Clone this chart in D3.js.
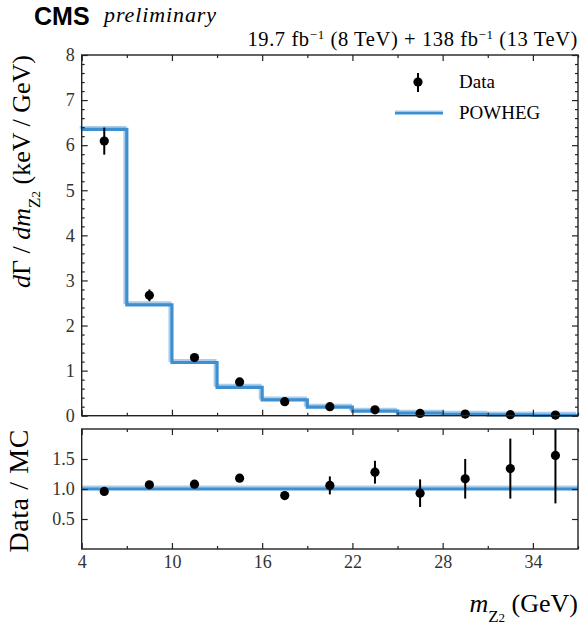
<!DOCTYPE html>
<html>
<head>
<meta charset="utf-8">
<script src="https://cdn.jsdelivr.net/npm/d3@7"></script>
<style>
  body { margin: 0; background: #fff; }
  text { font-family: "Liberation Serif", "DejaVu Serif", serif; }
</style>
</head>
<body>
<div id="chart-area"></div>
<script>
// bin edges of m_Z2 (GeV)
var binEdges = [4, 7, 10, 13, 16, 19, 22, 25, 28, 31, 34, 37];
// POWHEG prediction, keV/GeV
var powheg = [6.35, 2.46, 1.18, 0.63, 0.35, 0.19, 0.10, 0.055, 0.03, 0.017, 0.009];
// measured data and its error
var dataVals = [6.09, 2.67, 1.29, 0.75, 0.31, 0.20, 0.13, 0.05, 0.035, 0.023, 0.014];
var dataErr = [0.30, 0.13, 0.06, 0.05, 0.03, 0.03, 0.02, 0.012, 0.01, 0.009, 0.007];
// ratio data / MC
var ratioVals = [0.96, 1.07, 1.08, 1.18, 0.89, 1.06, 1.28, 0.93, 1.17, 1.34, 1.56];
var ratioErr = [0.05, 0.05, 0.05, 0.06, 0.07, 0.15, 0.19, 0.23, 0.33, 0.50, 0.80];

var xTicks = [4, 10, 16, 22, 28, 34];
var xMinor = [7, 13, 19, 25, 31, 37];
var yTicks = [0, 1, 2, 3, 4, 5, 6, 7, 8];
var ratioTicks = [0.5, 1.0, 1.5];

var W = 580, H = 624;
var left = 81.7, right = 578;
var top1 = 55, bot1 = 415.7;
var top2 = 429, bot2 = 549;

var blue = "#3d8fd0", lightBlue = "#a9cdec";

var svg = d3.select("#chart-area")
    .append("svg")
      .attr("width", W)
      .attr("height", H);

var x = d3.scaleLinear().domain([4, 37]).range([left, right]);
var y = d3.scaleLinear().domain([0, 8]).range([bot1, top1]);
var yr = d3.scaleLinear().domain([0, 2]).range([bot2, top2]);

var bins = powheg.map(function(d, i) {
  return {lo: binEdges[i], hi: binEdges[i + 1], mc: d,
          data: dataVals[i], err: dataErr[i],
          ratio: ratioVals[i], rerr: ratioErr[i]};
});

// step path for the histogram
function stepPath(yScale, acc) {
  var pts = [];
  bins.forEach(function(b) {
    pts.push([x(b.lo), yScale(acc(b))]);
    pts.push([x(b.hi), yScale(acc(b))]);
  });
  return d3.line()(pts);
}

// ---- axes helpers (ticks point inward, no domain line)
function drawAxes(g, yScale, yMajor, yMinor, y0, y1, showXLabels, yFmt) {
  var fontSz = "18px";
  var ax = g.append("g").attr("transform", "translate(0," + y1 + ")")
    .call(d3.axisBottom(x).tickValues(xTicks).tickSize(-6).tickPadding(6)
      .tickFormat(showXLabels ? d3.format("d") : ""));
  ax.append("g").call(d3.axisBottom(x).tickValues(xMinor).tickSize(-3).tickFormat(""));
  g.append("g").attr("transform", "translate(0," + y0 + ")")
    .call(d3.axisTop(x).tickValues(xTicks).tickSize(-6).tickFormat(""))
    .append("g").call(d3.axisTop(x).tickValues(xMinor).tickSize(-3).tickFormat(""));

  g.append("g").attr("transform", "translate(" + left + ",0)")
    .call(d3.axisLeft(yScale).tickValues(yMajor).tickSize(-6).tickPadding(7).tickFormat(yFmt));
  g.append("g").attr("transform", "translate(" + right + ",0)")
    .call(d3.axisRight(yScale).tickValues(yMajor).tickSize(-6).tickFormat(""));
  if (yMinor) {
    g.append("g").attr("transform", "translate(" + left + ",0)")
      .call(d3.axisLeft(yScale).tickValues(yMinor).tickSize(-3).tickFormat(""));
    g.append("g").attr("transform", "translate(" + right + ",0)")
      .call(d3.axisRight(yScale).tickValues(yMinor).tickSize(-3).tickFormat(""));
  }
  g.selectAll(".domain").remove();
  g.selectAll(".tick line").attr("stroke", "#222").attr("stroke-width", 1.2);
  g.selectAll(".tick text")
    .attr("fill", "#333")
    .style("font-family", "'Liberation Serif', serif")
    .style("font-size", fontSz);

  g.append("rect")
    .attr("x", left).attr("y", y0)
    .attr("width", right - left).attr("height", y1 - y0)
    .attr("fill", "none").attr("stroke", "#222").attr("stroke-width", 1.4);
}

// ================= top panel
var topPanel = svg.append("g");
var minorY = d3.range(0, 8.001, 0.2).filter(function(v) {
  return Math.abs(v - Math.round(v)) > 0.01;
});

topPanel.append("path")
  .attr("d", stepPath(y, function(b) { return b.mc; }))
  .attr("transform", "translate(-2,-2)")
  .attr("fill", "none").attr("stroke", lightBlue).attr("stroke-width", 3);
topPanel.append("path")
  .attr("d", stepPath(y, function(b) { return b.mc; }))
  .attr("fill", "none").attr("stroke", blue).attr("stroke-width", 3.2);

topPanel.selectAll(".err").data(bins).enter().append("line")
  .attr("x1", function(d) { return x((d.lo + d.hi) / 2); })
  .attr("x2", function(d) { return x((d.lo + d.hi) / 2); })
  .attr("y1", function(d) { return y(d.data - d.err); })
  .attr("y2", function(d) { return y(d.data + d.err); })
  .attr("stroke", "#000").attr("stroke-width", 2);
topPanel.selectAll(".pt").data(bins).enter().append("circle")
  .attr("cx", function(d) { return x((d.lo + d.hi) / 2); })
  .attr("cy", function(d) { return y(d.data); })
  .attr("r", 4.6).attr("fill", "#000");

drawAxes(topPanel, y, yTicks, minorY, top1, bot1, false, d3.format("d"));

// legend
var leg = svg.append("g");
leg.append("line").attr("x1", 418).attr("x2", 418).attr("y1", 73).attr("y2", 92)
  .attr("stroke", "#000").attr("stroke-width", 2);
leg.append("circle").attr("cx", 418).attr("cy", 82).attr("r", 4.6).attr("fill", "#000");
leg.append("text").attr("x", 459).attr("y", 88).style("font-size", "19px").text("Data");
leg.append("line").attr("x1", 395).attr("x2", 443).attr("y1", 113).attr("y2", 113)
  .attr("stroke", blue).attr("stroke-width", 3.2);
leg.append("line").attr("x1", 395).attr("x2", 443).attr("y1", 111).attr("y2", 111)
  .attr("stroke", lightBlue).attr("stroke-width", 1.2);
leg.append("text").attr("x", 459).attr("y", 119).style("font-size", "19px").text("POWHEG");

// ================= ratio panel
var rat = svg.append("g");
rat.append("line")
  .attr("x1", x(4)).attr("x2", x(37))
  .attr("y1", yr(1) - 2).attr("y2", yr(1) - 2)
  .attr("stroke", lightBlue).attr("stroke-width", 3);
rat.append("line")
  .attr("x1", x(4)).attr("x2", x(37))
  .attr("y1", yr(1)).attr("y2", yr(1))
  .attr("stroke", blue).attr("stroke-width", 3.2);

rat.selectAll(".rerr").data(bins).enter().append("line")
  .attr("x1", function(d) { return x((d.lo + d.hi) / 2); })
  .attr("x2", function(d) { return x((d.lo + d.hi) / 2); })
  .attr("y1", function(d) { return yr(Math.max(0, d.ratio - d.rerr)); })
  .attr("y2", function(d) { return yr(Math.min(2, d.ratio + d.rerr)); })
  .attr("stroke", "#000").attr("stroke-width", 2);
rat.selectAll(".rpt").data(bins).enter().append("circle")
  .attr("cx", function(d) { return x((d.lo + d.hi) / 2); })
  .attr("cy", function(d) { return yr(d.ratio); })
  .attr("r", 4.6).attr("fill", "#000");

drawAxes(rat, yr, ratioTicks, null, top2, bot2, true, d3.format(".1f"));

// ================= labels
svg.append("text").attr("x", 34).attr("y", 25)
  .style("font-family", "'Liberation Sans', Arial, sans-serif")
  .style("font-weight", "bold").style("font-size", "25px")
  .text("CMS");
svg.append("text").attr("x", 104).attr("y", 22)
  .style("font-style", "italic").style("font-size", "22px")
  .style("letter-spacing", "0.9px")
  .text("preliminary");

var lumi = svg.append("text").attr("x", 578).attr("y", 46)
  .attr("text-anchor", "end").style("font-size", "20.5px")
  .style("letter-spacing", "0.6px");
lumi.append("tspan").text("19.7 fb");
lumi.append("tspan").attr("baseline-shift", "super").style("font-size", "13px").text("\u22121");
lumi.append("tspan").text(" (8 TeV) + 138 fb");
lumi.append("tspan").attr("baseline-shift", "super").style("font-size", "13px").text("\u22121");
lumi.append("tspan").text(" (13 TeV)");

var yl = svg.append("text")
  .attr("transform", "translate(30," + top1 + ") rotate(-90)")
  .attr("text-anchor", "end").style("font-size", "26px");
yl.append("tspan").style("font-style", "italic").text("d");
yl.append("tspan").text("\u0393 / ");
yl.append("tspan").style("font-style", "italic").text("dm");
yl.append("tspan").attr("baseline-shift", "sub").style("font-size", "17px").text("Z");
yl.append("tspan").attr("baseline-shift", "-10").style("font-size", "13px").text("2");
yl.append("tspan").text(" (keV / GeV)");

svg.append("text")
  .attr("transform", "translate(28," + top2 + ") rotate(-90)")
  .attr("text-anchor", "end").style("font-size", "28px")
  .style("letter-spacing", "0.6px")
  .text("Data / MC");

var xl = svg.append("text").attr("x", 578).attr("y", 612)
  .attr("text-anchor", "end").style("font-size", "26px");
xl.append("tspan").style("font-style", "italic").text("m");
xl.append("tspan").attr("baseline-shift", "sub").style("font-size", "17px").text("Z");
xl.append("tspan").attr("baseline-shift", "-10").style("font-size", "13px").text("2");
xl.append("tspan").text(" (GeV)");
</script>
</body>
</html>
